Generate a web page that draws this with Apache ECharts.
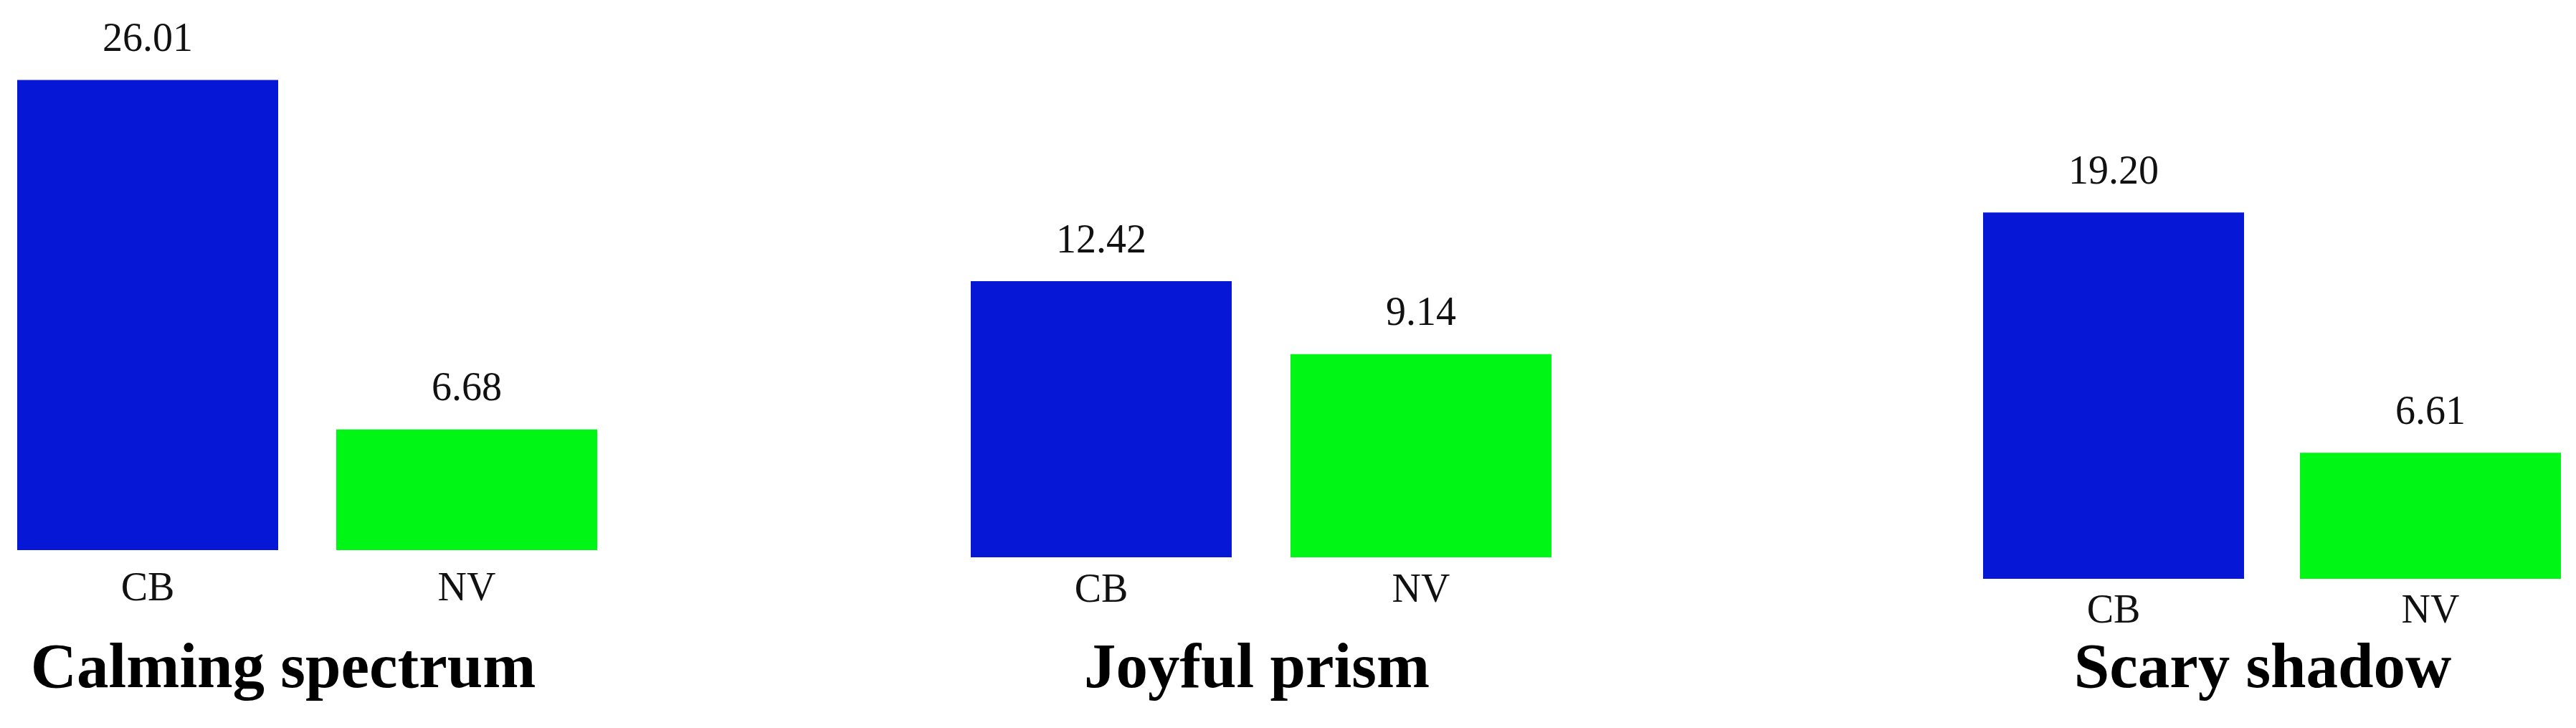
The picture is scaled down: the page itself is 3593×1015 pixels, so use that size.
<!DOCTYPE html>
<html>
<head>
<meta charset="utf-8">
<script src="https://cdn.jsdelivr.net/npm/echarts@6/dist/echarts.min.js"></script>
<style>
html,body{margin:0;padding:0;background:#fff;}
#chart{width:3593px;height:1015px;}
</style>
</head>
<body>
<div id="chart"></div>
<script>
const categories = ['CB', 'NV'];
const panelTitles = ['Calming spectrum', 'Joyful prism', 'Scary shadow'];
const cbValues = [26.01, 12.42, 19.20];
const nvValues = [6.68, 9.14, 6.61];

const BLUE = '#0618D6';
const GREEN = '#00F716';
const FONT = '"Liberation Serif", "Times New Roman", serif';

// layout per panel (positions only); categories sit on the grid edges
const gridLayout = [
  { left: 206, width: 445, top: 11, height: 756, max: 30, margin: 27 },
  { left: 1536, width: 446, top: 33, height: 744, max: 24, margin: 19 },
  { left: 2948, width: 442, top: 62, height: 745, max: 28, margin: 18 }
];
const titleX = [390, 1748, 3151];

const grids = [], xAxes = [], yAxes = [], series = [], titles = [];
panelTitles.forEach((t, i) => {
  const g = gridLayout[i];
  grids.push({ left: g.left, width: g.width, top: g.top, height: g.height, containLabel: false });
  xAxes.push({
    type: 'category', gridIndex: i, data: categories, boundaryGap: false,
    axisLine: { show: false }, axisTick: { show: false }, splitLine: { show: false },
    axisLabel: { fontFamily: FONT, fontSize: 56, color: '#111', margin: g.margin }
  });
  yAxes.push({ type: 'value', gridIndex: i, min: 0, max: g.max, show: false, splitLine: { show: false } });
  series.push({
    type: 'bar', xAxisIndex: i, yAxisIndex: i, barWidth: 364, clip: false,
    data: [
      { value: cbValues[i], itemStyle: { color: BLUE } },
      { value: nvValues[i], itemStyle: { color: GREEN } }
    ],
    label: {
      show: true, position: 'top', distance: 27,
      fontFamily: FONT, fontSize: 56, color: '#111',
      formatter: p => p.value.toFixed(2)
    },
    animation: false
  });
  titles.push({
    text: t, left: titleX[i], top: 886, textAlign: 'center', textVerticalAlign: 'top',
    textStyle: { fontFamily: FONT, fontSize: 89, fontWeight: 'bold', color: '#000' }
  });
});

const chart = echarts.init(document.getElementById('chart'), null, { renderer: 'canvas' });
chart.setOption({
  animation: false,
  backgroundColor: '#fff',
  title: titles,
  grid: grids,
  xAxis: xAxes,
  yAxis: yAxes,
  series: series
});
</script>
</body>
</html>
